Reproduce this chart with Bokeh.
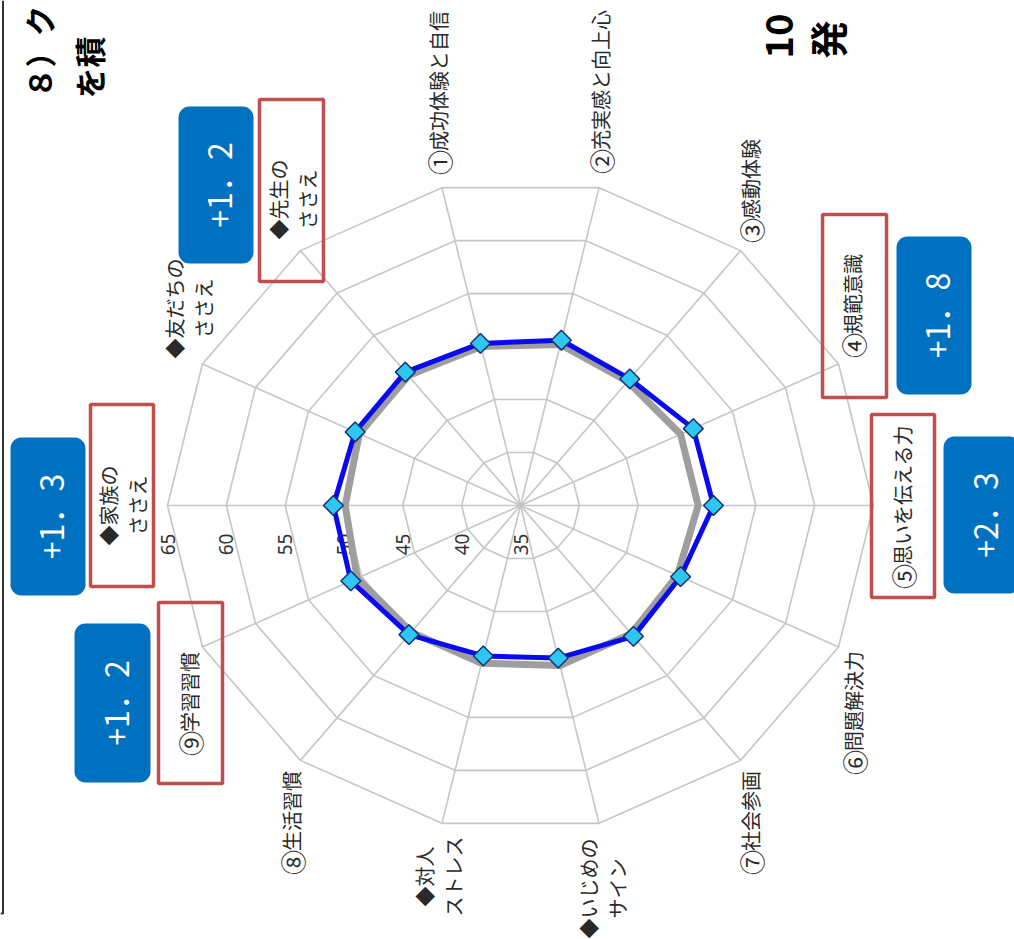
import numpy as np
from bokeh.plotting import figure
from bokeh.models import Range1d, BoxAnnotation
from bokeh.core.properties import value
from bokeh.embed import file_html
from bokeh.resources import INLINE

# ---------------- data ----------------
categories = ["①成功体験と自信", "②充実感と向上心", "③感動体験", "④規範意識",
              "⑤思いを伝える力", "⑥問題解決力", "⑦社会参画", "◆いじめの\nサイン",
              "◆対人\nストレス", "⑧生活習慣", "⑨学習習慣", "◆家族の\nささえ",
              "◆友だちの\nささえ", "◆先生の\nささえ"]
current = [50.3, 50.6, 49.9, 51.3, 51.4, 50.1, 50.4, 49.4, 49.2, 50.2, 51.0, 50.9, 50.6, 50.7]
previous = [50.0, 50.2, 49.6, 50.1, 50.1, 49.8, 50.1, 50.1, 49.9, 49.9, 50.4, 49.9, 50.2, 50.3]
ticks = [35, 40, 45, 50, 55, 60, 65]
badge_texts = ["+1．2", "+1．8", "+2．3", "+1．3", "+1．2"]
title_lines = ["８）ク", "を積"]
title_right = ["10", "発"]

# ---------------- layout (pixels of the page) ----------------
W, H = 1014, 939
CX, CY = 520, 505
SX = 353 / 30.0   # px per unit horizontally
SY = 326 / 30.0   # px per unit vertically
r_min = ticks[0]

def P(px, py):
    return (px - CX) / SX, (CY - py) / SY

label_pos = [(438, 92), (600, 91), (750, 190), (852, 305), (902, 506), (853, 712),
             (750, 822), (602, 888), (438, 876), (291, 822), (189, 703), (122, 505),
             (188, 308), (292, 199)]
red_boxes = [(259, 323, 99, 281), (822, 886, 214, 397), (871, 934, 414, 597),
             (90, 153, 404, 586), (158, 222, 602, 783)]
blue_boxes = [(178, 253, 106, 263), (896, 971, 236, 394), (943, 1020, 436, 593),
              (10, 85, 437, 595), (74, 150, 623, 782)]

n = len(categories)
theta = [(4 - k) * 2 * np.pi / n for k in range(n)]

p = figure(width=W, height=H,
           x_range=Range1d(-CX / SX, (W - CX) / SX),
           y_range=Range1d(-(H - CY) / SY, CY / SY),
           output_backend="svg", toolbar_location=None,
           x_axis_type=None, y_axis_type=None, min_border=0)
p.outline_line_color = None
p.background_fill_color = "white"
p.border_fill_color = "white"

GRID = "#C6C6C6"
for t in ticks[1:]:
    r = t - r_min
    xs = [r * np.cos(a) for a in theta] + [r * np.cos(theta[0])]
    ys = [r * np.sin(a) for a in theta] + [r * np.sin(theta[0])]
    p.line(xs, ys, line_color=GRID, line_width=1.6)
R = ticks[-1] - r_min
p.segment(x0=[0] * n, y0=[0] * n,
          x1=[R * np.cos(a) for a in theta], y1=[R * np.sin(a) for a in theta],
          line_color=GRID, line_width=1.6)

# tick labels
tick_y = P(0, 544)[1]
p.text(x=[-(t - r_min) for t in ticks], y=[tick_y] * len(ticks), text=[str(t) for t in ticks],
       angle=np.pi / 2, text_align="center", text_baseline="middle",
       text_font=value("Noto Sans"), text_font_size="19px", text_color="#333333")

# category labels
CIRCLED = "①②③④⑤⑥⑦⑧⑨"
FS, CW = 20, 23  # font size of the labels, advance of the circled digit
lx, ly, lt = [], [], []
sx, sy, st = [], [], []
dx_, dy_, dt_ = [], [], []
for cat, (cx, cy) in zip(categories, label_pos):
    lines = cat.split("\n")
    m = len(lines)
    if m == 1 and cat[0] in CIRCLED:
        total = CW + FS * (len(cat) - 1)
        bottom = cy + total / 2
        c = P(cx, bottom - CW / 2)
        dx_.append(c[0]); dy_.append(c[1]); dt_.append(cat[0])
        c = P(cx, bottom - CW)
        sx.append(c[0]); sy.append(c[1]); st.append(cat[1:])
        continue
    for i, line in enumerate(lines):
        x, y = P(cx + (i - (m - 1) / 2) * 29, cy)
        lx.append(x); ly.append(y); lt.append(line)
lab_kw = dict(angle=np.pi / 2, text_baseline="middle", text_font=value("Noto Sans CJK JP"),
              text_color="#2A2A2A")
p.text(x=lx, y=ly, text=lt, text_align="center", text_font_size=f"{FS}px", **lab_kw)
p.text(x=sx, y=sy, text=st, text_align="left", text_font_size=f"{FS}px", **lab_kw)
p.text(x=dx_, y=dy_, text=dt_, text_align="center", text_font_size="25px", **lab_kw)

# series
def proj(vals):
    xs = [(v - r_min) * np.cos(a) for v, a in zip(vals, theta)]
    ys = [(v - r_min) * np.sin(a) for v, a in zip(vals, theta)]
    return xs, ys

px_, py_ = proj(previous)
p.line(px_ + [px_[0]], py_ + [py_[0]], line_color="#9E9E9E", line_width=7, line_join="round")
cx_, cy_ = proj(current)
p.line(cx_ + [cx_[0]], cy_ + [cy_[0]], line_color="#0A0AF0", line_width=5, line_join="round")
p.scatter(cx_, cy_, marker="square", angle=np.pi / 4, size=14,
          fill_color="#2EC6F2", line_color="#17306E", line_width=1.5)

# red boxes
for (l, r_, t, b) in red_boxes:
    x0, y0 = P(l, t); x1, y1 = P(r_, b)
    p.add_layout(BoxAnnotation(left=x0, right=x1, top=y0, bottom=y1,
                               fill_alpha=0, fill_color=None,
                               line_color="#C0504D", line_width=3.5, line_alpha=1))

# blue badges
bx, by = [], []
for (l, r_, t, b) in blue_boxes:
    x0, y0 = P(l, t); x1, y1 = P(r_, b)
    p.add_layout(BoxAnnotation(left=x0, right=x1, top=y0, bottom=y1,
                               fill_color="#0070C0", fill_alpha=1, line_color=None,
                               border_radius=11, level="underlay"))
    c = P((l + r_) / 2 + 2, (t + b) / 2)
    bx.append(c[0]); by.append(c[1])
p.text(x=bx, y=by, text=badge_texts, angle=np.pi / 2, text_align="center",
       text_baseline="middle", text_font=value("Noto Sans CJK JP"),
       text_font_size="32px", text_color="white")

# title fragments
tx, ty = [], []
for (x, y) in [(38, 98), (88, 98)]:
    c = P(x, y); tx.append(c[0]); ty.append(c[1])
p.text(x=tx, y=ty, text=title_lines, angle=np.pi / 2, text_align="left",
       text_baseline="middle", text_font=value("Noto Sans CJK JP"),
       text_font_size="31px", text_font_style="bold", text_color="black")
tx, ty = [], []
for (x, y) in [(778, 58), (826, 58)]:
    c = P(x, y); tx.append(c[0]); ty.append(c[1])
p.text(x=tx, y=ty, text=title_right, angle=np.pi / 2, text_align="left",
       text_baseline="middle", text_font=value("Noto Sans CJK JP"),
       text_font_size="38px", text_font_style="bold", text_color="black")

# frame line at left
f0 = P(2.5, 0); f1 = P(2.5, 913); f2 = P(0, 913)
p.line([f0[0], f1[0], f2[0]], [f0[1], f1[1], f2[1]], line_color="#333333", line_width=2)

open("out.html", "w").write(file_html(p, INLINE))
